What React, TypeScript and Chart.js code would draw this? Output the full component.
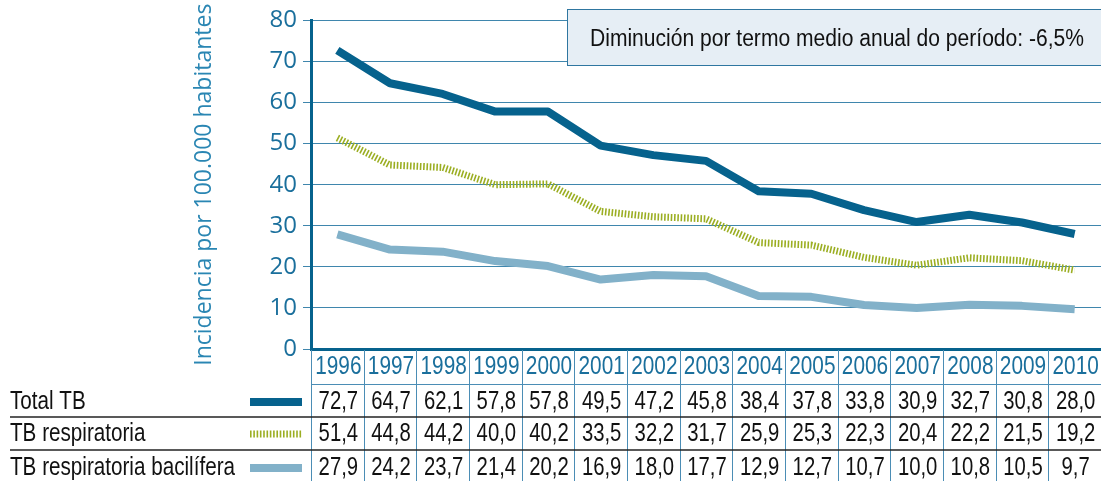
import React, { useEffect, useRef } from 'react';
import { Chart, registerables } from 'chart.js';

Chart.register(...registerables);

const years = ['1996', '1997', '1998', '1999', '2000', '2001', '2002', '2003', '2004', '2005', '2006', '2007', '2008', '2009', '2010'];
const totalTB = [72.7, 64.7, 62.1, 57.8, 57.8, 49.5, 47.2, 45.8, 38.4, 37.8, 33.8, 30.9, 32.7, 30.8, 28.0];
const tbRespiratoria = [51.4, 44.8, 44.2, 40.0, 40.2, 33.5, 32.2, 31.7, 25.9, 25.3, 22.3, 20.4, 22.2, 21.5, 19.2];
const tbBacilifera = [27.9, 24.2, 23.7, 21.4, 20.2, 16.9, 18.0, 17.7, 12.9, 12.7, 10.7, 10.0, 10.8, 10.5, 9.7];
const seriesLabels = ['Total TB', 'TB respiratoria', 'TB respiratoria bacilífera'];
const yAxisTitle = 'Incidencia por 100.000 habitantes';
const noteText = 'Diminución por termo medio anual do período: -6,5%';

const DARK = '#06628d';
const GREEN = '#9bae22';
const LIGHT = '#82b1c9';
const GRID = '#3f86ad';
const FONT = '"Liberation Sans", Arial, sans-serif';

const fmt = (v: number) => v.toFixed(1).replace('.', ',');

function narrowText(ctx: CanvasRenderingContext2D, text: string, x: number, y: number, align: CanvasTextAlign, size: number, sx: number, color: string) {
  ctx.save();
  ctx.font = `${size}px ${FONT}`;
  ctx.fillStyle = color;
  ctx.textAlign = align;
  ctx.textBaseline = 'middle';
  ctx.translate(x, y);
  ctx.scale(sx, 1);
  ctx.fillText(text, 0, 0);
  ctx.restore();
}

function widthOf(ctx: CanvasRenderingContext2D, text: string, size: number) {
  ctx.save();
  ctx.font = `${size}px ${FONT}`;
  const w = ctx.measureText(text).width;
  ctx.restore();
  return w;
}

const tablePlugin = {
  id: 'tablePlugin',
  afterDraw(chart: any) {
    const ctx: CanvasRenderingContext2D = chart.ctx;
    const xs = chart.scales.x;
    const n = years.length;
    const x0 = xs.getPixelForValue(0);
    const w = xs.getPixelForValue(1) - x0;
    const left = x0 - w / 2;
    const right = left + n * w;
    ctx.save();

    // note box
    ctx.fillStyle = '#e6eef5';
    ctx.strokeStyle = '#2f76a0';
    ctx.lineWidth = 1;
    ctx.fillRect(567, 9, 540, 57);
    ctx.strokeRect(567.5, 9.5, 540, 56);
    narrowText(ctx, noteText, 590, 40, 'left', 23, 494 / widthOf(ctx, noteText, 23), '#111');

    // table grid
    ctx.strokeStyle = '#4b8db5';
    ctx.lineWidth = 1;
    for (let i = 0; i <= n; i++) {
      const bx = Math.round(left + i * w) + 0.5;
      ctx.beginPath();
      ctx.moveTo(bx, 350);
      ctx.lineTo(bx, 481);
      ctx.stroke();
    }
    ctx.beginPath();
    ctx.moveTo(left, 384.5);
    ctx.lineTo(right, 384.5);
    ctx.stroke();

    ctx.strokeStyle = '#222';
    ctx.lineWidth = 1.3;
    [417, 450].forEach((y) => {
      ctx.beginPath();
      ctx.moveTo(10, y);
      ctx.lineTo(right, y);
      ctx.stroke();
    });

    // years
    years.forEach((y, i) => narrowText(ctx, y, xs.getPixelForValue(i) + 1, 367, 'center', 26, 0.8, '#1a6f9c'));

    const rows = [totalTB, tbRespiratoria, tbBacilifera];
    const rowY = [402, 434, 468];
    rows.forEach((r, ri) => {
      r.forEach((v, i) => narrowText(ctx, fmt(v), xs.getPixelForValue(i) + 1, rowY[ri], 'center', 26, 0.78, '#111'));
    });

    // row labels
    const lsx = 225 / widthOf(ctx, seriesLabels[2], 26);
    seriesLabels.forEach((l, ri) => narrowText(ctx, l, 10, rowY[ri], 'left', 26, lsx, '#111'));

    // legend samples
    const ds = chart.data.datasets;
    rowY.forEach((y, ri) => {
      const d = ds[ri];
      ctx.beginPath();
      ctx.strokeStyle = d.borderColor;
      ctx.lineWidth = d.borderWidth;
      ctx.setLineDash(d.borderDash || []);
      ctx.moveTo(250, y);
      ctx.lineTo(302, y);
      ctx.stroke();
    });
    ctx.setLineDash([]);
    ctx.restore();
  },
};

export default function App() {
  const ref = useRef<HTMLCanvasElement>(null);
  useEffect(() => {
    if (!ref.current) return;
    const chart = new Chart(ref.current, {
      type: 'line',
      data: {
        labels: years,
        datasets: [
          {
            label: seriesLabels[0],
            data: totalTB,
            borderColor: DARK,
            borderWidth: 8,
            pointRadius: 0,
            tension: 0,
            borderJoinStyle: 'round',
          },
          {
            label: seriesLabels[1],
            data: tbRespiratoria,
            borderColor: GREEN,
            borderWidth: 7,
            borderDash: [1.6, 1.7],
            pointRadius: 0,
            tension: 0,
            borderJoinStyle: 'round',
          },
          {
            label: seriesLabels[2],
            data: tbBacilifera,
            borderColor: LIGHT,
            borderWidth: 8,
            pointRadius: 0,
            tension: 0,
            borderJoinStyle: 'round',
          },
        ],
      },
      options: {
        animation: false,
        responsive: false,
        layout: { padding: { left: 191, top: 19, right: 0, bottom: 132 } },
        plugins: { legend: { display: false }, tooltip: { enabled: false } },
        scales: {
          x: {
            offset: true,
            grid: { display: false },
            ticks: { display: false },
            border: { display: true, color: DARK, width: 3 },
            afterFit: (s: any) => { s.height = 0; },
          },
          y: {
            min: 0,
            max: 80,
            ticks: {
              stepSize: 10,
              color: '#1a6f9c',
              font: { family: '"Open Sans", sans-serif', size: 24 },
              padding: 6,
            },
            grid: { color: GRID, lineWidth: 1, tickLength: 8 },
            border: { display: true, color: DARK, width: 3 },
            title: {
              display: true,
              text: yAxisTitle,
              color: '#2a86b3',
              font: { family: '"Open Sans", sans-serif', size: 23 },
              padding: 0,
            },
            afterFit: (s: any) => { s.width = 120; },
          },
        },
      },
      plugins: [tablePlugin],
    });
    return () => chart.destroy();
  }, []);
  return (
    <div style={{ position: 'absolute', left: 0, top: 0, width: 1101, height: 481 }}>
      <canvas ref={ref} width={1101} height={481} />
    </div>
  );
}
